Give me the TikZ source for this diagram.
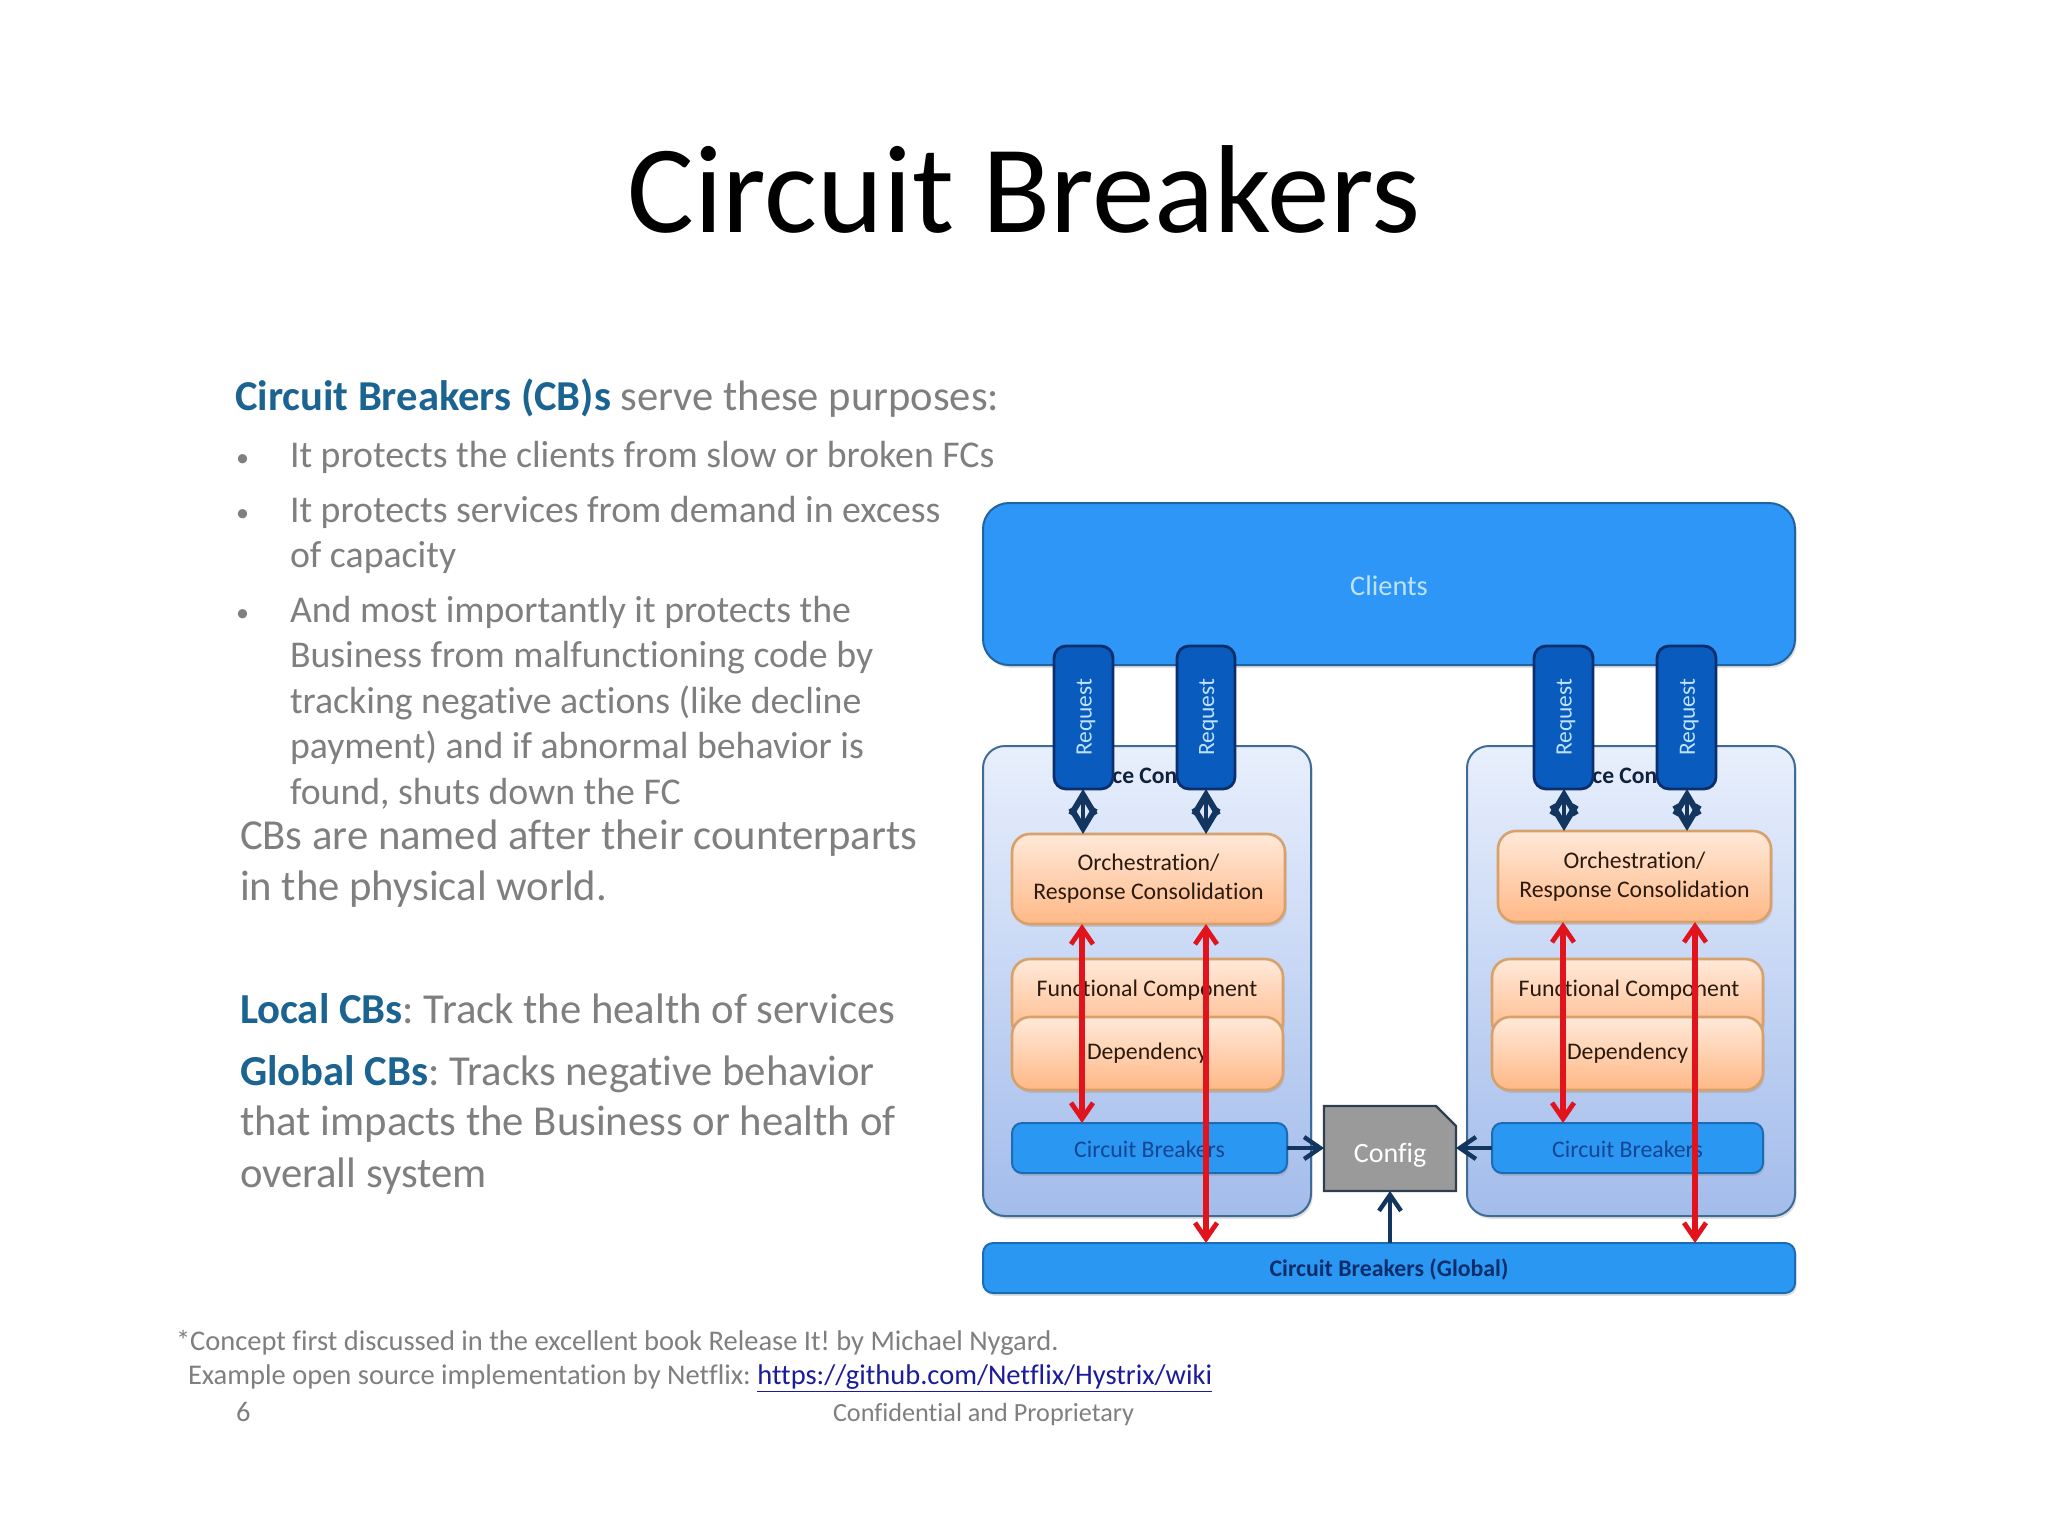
\documentclass[tikz,border=0pt]{standalone}
\usepackage{fontspec}
\setmainfont{Carlito}[Ligatures=NoCommon]
\usetikzlibrary{arrows.meta,shapes.misc,shadows}
\definecolor{txtgray}{HTML}{7F7F7F}
\definecolor{headblue}{HTML}{1B6391}
\definecolor{clientblue}{HTML}{2D96F7}
\definecolor{edgeblue}{HTML}{1F639F}
\definecolor{reqfill}{HTML}{0A5BBE}
\definecolor{reqedge}{HTML}{0B2F6C}
\definecolor{reqtext}{HTML}{BFE3FF}
\definecolor{contTop}{HTML}{E8EFFC}
\definecolor{contBot}{HTML}{A3BCEB}
\definecolor{contEdge}{HTML}{3F6B96}
\definecolor{orTop}{HTML}{FFE9D9}
\definecolor{orBot}{HTML}{FFB886}
\definecolor{orEdge}{HTML}{D8A06A}
\definecolor{cbfill}{HTML}{2A98F3}
\definecolor{cbedge}{HTML}{1A6CB5}
\definecolor{cbtext}{HTML}{154590}
\definecolor{navytext}{HTML}{0C2D6B}
\definecolor{ctxtext}{HTML}{10203F}
\definecolor{arrowred}{HTML}{E1141E}
\definecolor{arrownavy}{HTML}{12365F}
\definecolor{cfgfill}{HTML}{9A9A9A}
\definecolor{cfgedge}{HTML}{2E3F50}
\definecolor{linkblue}{HTML}{1B1B9C}
\definecolor{lbltext}{HTML}{2A1A10}
\newcommand{\bx}[7]{\node[#6,minimum width={(#4-#2)*0.5pt},minimum height={(#5-#3)*0.5pt}] (#1) at ({(#2+#4)/2},{(#3+#5)/2}) {#7};}
\newcommand{\bd}[5]{\node[bodytxt,#4] (#1) at (#2,#3) {#5};}
\newcommand{\lowered}[2]{\raisebox{0pt}[\dimexpr\height+#1\relax][\depth]{#2}}
\tikzset{
  x=0.5pt,y=-0.5pt,
  softshadow/.style={drop shadow={opacity=.25,shadow xshift=0.8pt,shadow yshift=-1.4pt}},
  bodytxt/.style={anchor=base west,inner sep=0pt,outer sep=0pt,text=txtgray},
  hd/.style={font=\fontsize{21.3}{21.3}\selectfont},
  sm/.style={font=\fontsize{18.9}{18.9}\selectfont},
  bul/.style={font=\fontsize{13}{13}\selectfont},
  lg/.style={font=\fontsize{21.35}{21.35}\selectfont},
  ft/.style={font=\fontsize{14.25}{14.25}\selectfont},
  basebox/.style={inner sep=0pt,outer sep=0pt,align=center},
  clientbox/.style={basebox,draw=edgeblue,line width=1pt,fill=clientblue,rounded corners=13pt,softshadow,text=reqtext,font=\fontsize{14.2}{14.2}\selectfont},
  reqbox/.style={basebox,draw=reqedge,line width=1.4pt,fill=reqfill,rounded corners=6pt,text=reqtext,font=\fontsize{11.7}{11.7}\selectfont},
  contbox/.style={basebox,draw=contEdge,line width=1pt,top color=contTop,bottom color=contBot,rounded corners=11pt,softshadow},
  orbox/.style={basebox,draw=orEdge,line width=1.3pt,top color=orTop,bottom color=orBot,rounded corners=9pt,softshadow,text=lbltext,font=\fontsize{11.9}{14.4}\selectfont},
  cbbox/.style={basebox,draw=cbedge,line width=1pt,fill=cbfill,rounded corners=5pt,softshadow,text=cbtext,font=\fontsize{11.9}{11.9}\selectfont},
  cfgbox/.style={basebox,draw=cfgedge,line width=1.2pt,fill=cfgfill,chamfered rectangle,chamfered rectangle corners=north east,chamfered rectangle xsep=5pt,chamfered rectangle ysep=5pt,text=white,font=\fontsize{14}{14}\selectfont},
  redarrow/.style={draw=arrowred,line width=2.6pt,{Straight Barb[length=8pt,width=11pt,line width=2.4pt]}-{Straight Barb[length=8pt,width=11pt,line width=2.4pt]}},
  navydouble/.style={draw=arrownavy,line width=2pt,{Straight Barb[length=10pt,width=12pt,line width=3pt]}-{Straight Barb[length=10pt,width=12pt,line width=3pt]}},
  navyarrow/.style={draw=arrownavy,line width=2pt,-{Straight Barb[length=8pt,width=11pt,line width=2.2pt]}},
}
\begin{document}
\frenchspacing
\begin{tikzpicture}
\useasboundingbox[fill=white] (0,0) rectangle (2048,1536);
% title
\node[anchor=base,inner sep=0pt,font=\fontsize{62.6}{62.6}\selectfont,text=black] (title) at (1024,232) {Circuit Breakers};
% left text
\bd{t1}{235}{410}{hd}{\textcolor{headblue}{\textbf{Circuit Breakers (CB)s}} serve these purposes:}
\bd{b1}{236}{466}{bul}{•}
\bd{t2}{290}{467}{sm}{It protects the clients from slow or broken FCs}
\bd{b2}{236}{521}{bul}{•}
\bd{t3}{290}{522}{sm}{It protects services from demand in excess}
\bd{t4}{290}{567}{sm}{of capacity}
\bd{b3}{236}{621}{bul}{•}
\bd{t5}{290}{622}{sm}{And most importantly it protects the}
\bd{t6}{290}{667}{sm}{Business from malfunctioning code by}
\bd{t7}{290}{713}{sm}{tracking negative actions (like decline}
\bd{t8}{290}{758}{sm}{payment) and if abnormal behavior is}
\bd{t9}{290}{804}{sm}{found, shuts down the FC}
\bd{t10}{240}{849}{lg}{CBs are named after their counterparts}
\bd{t11}{240}{900}{lg}{in the physical world.}
\bd{t12}{240}{1023}{lg}{\textcolor{headblue}{\textbf{Local CBs}}: Track the health of services}
\bd{t13}{240}{1085}{lg}{\textcolor{headblue}{\textbf{Global CBs}}: Tracks negative behavior}
\bd{t14}{240}{1135}{lg}{that impacts the Business or health of}
\bd{t15}{240}{1187}{lg}{overall system}
\bd{f1}{176}{1350}{ft}{*Concept first discussed in the excellent book Release It! by Michael Nygard.}
\bd{f2}{188}{1384}{ft}{Example open source implementation by Netflix: \textcolor{linkblue}{\underline{https://github.com/Netflix/Hystrix/wiki}}}
\bd{pg}{236}{1421}{ft}{6}
\bd{conf}{833}{1421}{font=\fontsize{13.1}{13.1}\selectfont}{Confidential and Proprietary}
% containers
\bx{contL}{983}{746}{1311}{1216}{contbox}{}
\bx{contR}{1467}{746}{1795}{1216}{contbox}{}
\node[anchor=base west,inner sep=0pt,font=\fontsize{11.8}{11.8}\selectfont\bfseries,text=ctxtext] (ctxL) at (1112,783) {ce Cont};
\node[anchor=base west,inner sep=0pt,font=\fontsize{11.8}{11.8}\selectfont\bfseries,text=ctxtext] (ctxR) at (1592,783) {ce Cont};
% clients
\bx{clients}{983}{503}{1795}{665}{clientbox}{\lowered{2pt}{Clients}}
% requests
\bx{reqA}{1054}{646}{1113}{789}{reqbox}{\rotatebox{90}{\lowered{2.6pt}{Request}}}
\bx{reqB}{1177}{646}{1235}{789}{reqbox}{\rotatebox{90}{\lowered{2.6pt}{Request}}}
\bx{reqC}{1534}{646}{1593}{789}{reqbox}{\rotatebox{90}{\lowered{2.6pt}{Request}}}
\bx{reqD}{1657}{646}{1716}{789}{reqbox}{\rotatebox{90}{\lowered{2.6pt}{Request}}}
% orchestration
\bx{orchL}{1012}{834}{1285}{924}{orbox}{Orchestration/\\Response Consolidation}
\bx{orchR}{1498}{831}{1771}{922}{orbox}{Orchestration/\\Response Consolidation}
% functional / dependency
\bx{funcL}{1012}{959}{1283}{1040}{orbox}{}
\bx{funcR}{1492}{959}{1763}{1040}{orbox}{}
\node[inner sep=0pt,text=lbltext,font=\fontsize{11.9}{11.9}\selectfont] (funcLt) at (1147,990) {Functional Component};
\node[inner sep=0pt,text=lbltext,font=\fontsize{11.9}{11.9}\selectfont] (funcRt) at (1629,990) {Functional Component};
\bx{depL}{1012}{1017}{1283}{1090}{orbox}{Dependency}
\bx{depR}{1492}{1017}{1763}{1090}{orbox}{Dependency}
% circuit breakers
\bx{cbL}{1012}{1123}{1287}{1173}{cbbox}{\lowered{1.3pt}{Circuit Breakers}}
\bx{cbR}{1492}{1123}{1763}{1173}{cbbox}{\lowered{1.3pt}{Circuit Breakers}}
\bx{global}{983}{1243}{1795}{1293}{cbbox,font=\fontsize{11.9}{11.9}\selectfont\bfseries,text=navytext}{\lowered{1.3pt}{Circuit Breakers (Global)}}
% config
\bx{config}{1324}{1106}{1456}{1191}{cfgbox}{\lowered{6.5pt}{Config}}
% x guides
\coordinate (xa) at (1082,0);
\coordinate (xb) at (1206,0);
\coordinate (xc) at (1563,0);
\coordinate (xd) at (1695,0);
\coordinate (xe) at (1083,0);
\coordinate (xf) at (1206,0);
\coordinate (xg) at (1564,0);
\coordinate (xh) at (1687,0);
% request links
\draw[navydouble] (reqA.south -| xe) -- (orchL.north -| xe);
\draw[navydouble] (reqB.south -| xf) -- (orchL.north -| xf);
\draw[navydouble] (reqC.south -| xg) -- (orchR.north -| xg);
\draw[navydouble] (reqD.south -| xh) -- (orchR.north -| xh);
% red links
\draw[redarrow] (orchL.south -| xa) -- (cbL.north -| xa);
\draw[redarrow] (orchL.south -| xb) -- (global.north -| xb);
\draw[redarrow] (orchR.south -| xc) -- (cbR.north -| xc);
\draw[redarrow] (orchR.south -| xd) -- (global.north -| xd);
% config links
\draw[navyarrow] (cbL.east) -- (config.west |- cbL.east);
\draw[navyarrow] (cbR.west) -- (config.east |- cbR.west);
\draw[navyarrow] (global.north -| config.south) -- (config.south);
\end{tikzpicture}
\end{document}
